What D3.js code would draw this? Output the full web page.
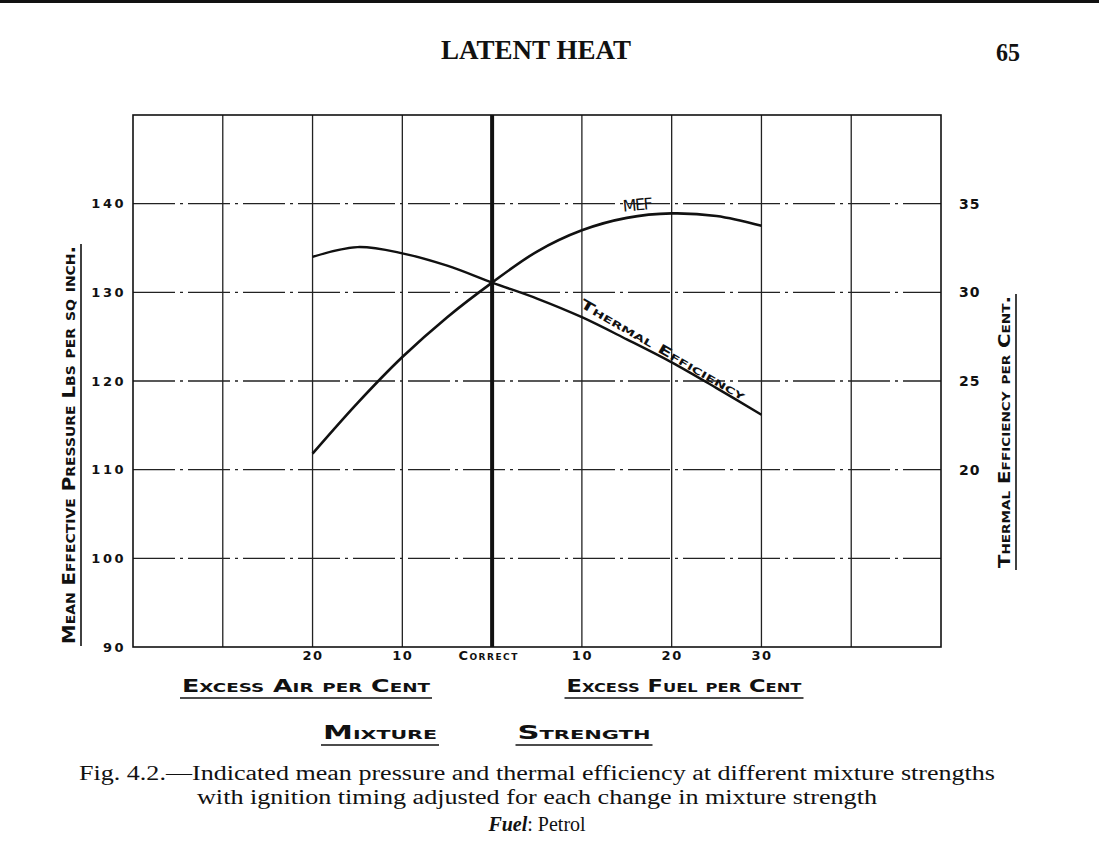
<!DOCTYPE html>
<html>
<head>
<meta charset="utf-8">
<script src="https://cdn.jsdelivr.net/npm/d3@7"></script>
<style>
  body { margin: 0; background: #fff; }
  svg { display: block; }
  .hand { font-family: "DejaVu Sans", sans-serif; font-variant: small-caps; fill: #111; }
  .serif { font-family: "Liberation Serif", "DejaVu Serif", serif; fill: #111; }
</style>
</head>
<body>
<div id="chart"></div>
<script>
// mixture strength: negative = excess air %, positive = excess fuel %
const mixture = [-20, -15, -10, -5, 0, 5, 10, 15, 20, 25, 30];
// mean effective pressure, lbs per sq inch (left axis)
const mepValues = [111.8, 117.5, 122.7, 127.2, 131.1, 134.6, 137.0, 138.4, 138.9, 138.6, 137.5];
// thermal efficiency, per cent (right axis)
const effValues = [32.0, 32.55, 32.2, 31.5, 30.55, 29.65, 28.6, 27.35, 26.05, 24.6, 23.1];

const xTicks = [-20, -10, 0, 10, 20, 30];
const leftTicks = [90, 100, 110, 120, 130, 140];
const rightTicks = [20, 25, 30, 35];

const width = 1099, height = 866;
const margin = { top: 115, right: 158, bottom: 219, left: 133 };

const svg = d3.select("#chart").append("svg")
    .attr("width", width)
    .attr("height", height);

// top rule of the page
svg.append("rect").attr("x", 0).attr("y", 0).attr("width", width).attr("height", 3).attr("fill", "#111");

svg.append("text").attr("class", "serif")
    .attr("x", 536).attr("y", 59)
    .attr("text-anchor", "middle")
    .attr("font-size", 27).attr("font-weight", "bold")
    .attr("textLength", 190).attr("lengthAdjust", "spacingAndGlyphs")
    .text("LATENT HEAT");

svg.append("text").attr("class", "serif")
    .attr("x", 1008).attr("y", 61)
    .attr("text-anchor", "middle")
    .attr("font-size", 26).attr("font-weight", "bold")
    .attr("textLength", 24).attr("lengthAdjust", "spacingAndGlyphs")
    .text("65");

const x = d3.scaleLinear().domain([-40, 50]).range([margin.left, width - margin.right]);
const y = d3.scaleLinear().domain([90, 150]).range([height - margin.bottom, margin.top]);
const y2 = d3.scaleLinear().domain([10, 40]).range([height - margin.bottom, margin.top]);

const g = svg.append("g");

// vertical grid lines
g.selectAll(".vgrid")
    .data(d3.range(-30, 50, 10).filter(d => d !== 0))
    .enter().append("line")
    .attr("class", "vgrid")
    .attr("x1", d => x(d)).attr("x2", d => x(d))
    .attr("y1", y(150)).attr("y2", y(90))
    .attr("stroke", "#222").attr("stroke-width", 1.3);

// horizontal grid lines (broken)
g.selectAll(".hgrid")
    .data(d3.range(100, 150, 10))
    .enter().append("line")
    .attr("class", "hgrid")
    .attr("x1", x(-40)).attr("x2", x(50))
    .attr("y1", d => y(d)).attr("y2", d => y(d))
    .attr("stroke", "#222").attr("stroke-width", 1.3)
    .attr("stroke-dasharray", "42,5,3,5");

// frame
g.append("rect")
    .attr("x", x(-40)).attr("y", y(150))
    .attr("width", x(50) - x(-40)).attr("height", y(90) - y(150))
    .attr("fill", "none").attr("stroke", "#111").attr("stroke-width", 1.6);

// correct mixture line
g.append("line")
    .attr("x1", x(0)).attr("x2", x(0))
    .attr("y1", y(150)).attr("y2", y(90))
    .attr("stroke", "#111").attr("stroke-width", 4);

// axes
const xAxis = svg.append("g")
    .attr("transform", `translate(0,${y(90)})`)
    .call(d3.axisBottom(x).tickValues(xTicks).tickSize(0).tickPadding(4)
        .tickFormat(d => d === 0 ? "Correct" : String(Math.abs(d))));
xAxis.select(".domain").remove();
xAxis.selectAll("text").attr("class", "hand").attr("font-size", 13)
    .attr("font-weight", "bold").attr("letter-spacing", 1.5);
xAxis.selectAll(".tick").filter(d => d === 0).select("text").attr("dx", -4);

const yAxis = svg.append("g")
    .attr("transform", `translate(${x(-40)},0)`)
    .call(d3.axisLeft(y).tickValues(leftTicks).tickSize(0).tickPadding(7));
yAxis.select(".domain").remove();
yAxis.selectAll("text").attr("class", "hand").attr("font-size", 13)
    .attr("font-weight", "bold").attr("letter-spacing", 2.5);

const yAxisR = svg.append("g")
    .attr("transform", `translate(${x(50)},0)`)
    .call(d3.axisRight(y2).tickValues(rightTicks).tickSize(0).tickPadding(18));
yAxisR.select(".domain").remove();
yAxisR.selectAll("text").attr("class", "hand").attr("font-size", 14)
    .attr("font-weight", "bold").attr("letter-spacing", 1);

// curves
const mepLine = d3.line()
    .x((d, i) => x(mixture[i]))
    .y(d => y(d))
    .curve(d3.curveCatmullRom.alpha(0.5));

const effLine = d3.line()
    .x((d, i) => x(mixture[i]))
    .y(d => y2(d))
    .curve(d3.curveCatmullRom.alpha(0.5));

g.append("path").datum(mepValues)
    .attr("d", mepLine)
    .attr("fill", "none").attr("stroke", "#111").attr("stroke-width", 2.6);

g.append("path").datum(effValues)
    .attr("d", effLine)
    .attr("fill", "none").attr("stroke", "#111").attr("stroke-width", 2.4);

// curve labels
g.append("text").attr("class", "hand")
    .attr("transform", `translate(${x(14.6)},${y(139.1)}) rotate(-5)`)
    .attr("font-size", 16).attr("letter-spacing", 4)
    .attr("textLength", 34).attr("lengthAdjust", "spacing")
    .text("MEF");

g.append("text").attr("class", "hand")
    .attr("transform", `translate(${x(9.7)},${y2(29.2)}) rotate(30)`)
    .attr("font-size", 13).attr("font-weight", "bold")
    .attr("textLength", 188).attr("lengthAdjust", "spacingAndGlyphs")
    .text("Thermal Efficiency");

// axis titles, underlined
function underlinedText(tx, ty, txt, size, len, rot) {
    const t = svg.append("g").attr("transform", `translate(${tx},${ty}) rotate(${rot})`);
    t.append("text").attr("class", "hand")
        .attr("text-anchor", "middle")
        .attr("font-size", size).attr("font-weight", "bold")
        .attr("textLength", len).attr("lengthAdjust", "spacingAndGlyphs")
        .text(txt);
    t.append("line")
        .attr("x1", -len / 2 - 2).attr("x2", len / 2 + 2)
        .attr("y1", 6).attr("y2", 6)
        .attr("stroke", "#111").attr("stroke-width", 1.6);
}

underlinedText(75, 445, "Mean Effective Pressure Lbs per sq inch.", 17, 398, -90);
underlinedText(1010, 432, "Thermal Efficiency per Cent.", 16, 272, -90);
underlinedText(306, 692, "Excess Air per Cent", 18, 248, 0);
underlinedText(684, 692, "Excess Fuel per Cent", 18, 235, 0);
underlinedText(380, 739, "Mixture", 19, 114, 0);
underlinedText(584, 739, "Strength", 19, 133, 0);

// caption
svg.append("text").attr("class", "serif")
    .attr("x", 537).attr("y", 780)
    .attr("text-anchor", "middle").attr("font-size", 20)
    .attr("textLength", 916).attr("lengthAdjust", "spacingAndGlyphs")
    .text("Fig. 4.2.\u2014Indicated mean pressure and thermal efficiency at different mixture strengths");

svg.append("text").attr("class", "serif")
    .attr("x", 537).attr("y", 804)
    .attr("text-anchor", "middle").attr("font-size", 20)
    .attr("textLength", 680).attr("lengthAdjust", "spacingAndGlyphs")
    .text("with ignition timing adjusted for each change in mixture strength");

const fuel = svg.append("text").attr("class", "serif")
    .attr("x", 537).attr("y", 831)
    .attr("text-anchor", "middle").attr("font-size", 20);
fuel.append("tspan").attr("font-style", "italic").attr("font-weight", "bold").text("Fuel");
fuel.append("tspan").text(": Petrol");
</script>
</body>
</html>
